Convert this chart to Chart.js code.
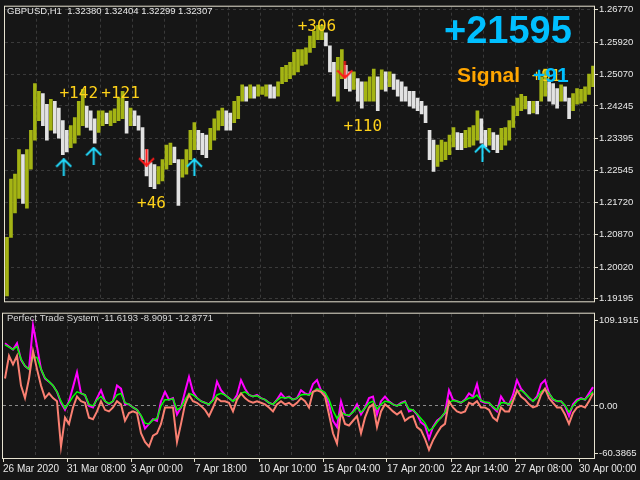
<!DOCTYPE html>
<html lang="en">
<head>
<meta charset="UTF-8">
<title>GBPUSD H1 - Perfect Trade System</title>
<script src="https://cdn.jsdelivr.net/npm/chart.js"></script>
<style>
    body {
        margin: 0;
        background-color: #161616;
        width: 640px;
        height: 480px;
        overflow: hidden;
        position: relative;
    }
    #priceChart { position: absolute; left: 0; top: 0; }
    #indChart { position: absolute; left: 0; top: 307px; }
</style>
</head>
<body>
<canvas id="priceChart" width="640" height="308"></canvas>
<canvas id="indChart" width="640" height="173"></canvas>

<script>
// one sample = about 4 px of the original chart (148 samples)
const priceHigh = [
    1.2080, 1.2233, 1.2246, 1.2310, 1.2297, 1.2310, 1.2361, 1.2483, 1.2463, 1.2457,
    1.2429, 1.2442, 1.2437, 1.2419, 1.2386, 1.2361, 1.2373, 1.2394, 1.2437, 1.2468,
    1.2424, 1.2412, 1.2391, 1.2412, 1.2412, 1.2406, 1.2412, 1.2417, 1.2445, 1.2463,
    1.2437, 1.2419, 1.2412, 1.2399, 1.2368, 1.2310, 1.2276, 1.2271, 1.2266, 1.2284,
    1.2322, 1.2327, 1.2317, 1.2284, 1.2284, 1.2310, 1.2361, 1.2381, 1.2361, 1.2353,
    1.2348, 1.2366, 1.2391, 1.2412, 1.2419, 1.2412, 1.2406, 1.2437, 1.2450, 1.2480,
    1.2475, 1.2480, 1.2475, 1.2480, 1.2475, 1.2480, 1.2480, 1.2475, 1.2488, 1.2526,
    1.2531, 1.2539, 1.2565, 1.2572, 1.2572, 1.2577, 1.2608, 1.2621, 1.2636, 1.2636,
    1.2616, 1.2582, 1.2539, 1.2552, 1.2572, 1.2531, 1.2514, 1.2514, 1.2496, 1.2488,
    1.2488, 1.2501, 1.2521, 1.2501, 1.2519, 1.2514, 1.2514, 1.2508, 1.2493, 1.2488,
    1.2475, 1.2463, 1.2463, 1.2445, 1.2437, 1.2424, 1.2361, 1.2335, 1.2322, 1.2335,
    1.2330, 1.2348, 1.2368, 1.2355, 1.2353, 1.2361, 1.2368, 1.2373, 1.2412, 1.2391,
    1.2361, 1.2366, 1.2355, 1.2348, 1.2366, 1.2368, 1.2386, 1.2424, 1.2445, 1.2455,
    1.2450, 1.2437, 1.2437, 1.2437, 1.2501, 1.2521, 1.2488, 1.2483, 1.2470, 1.2480,
    1.2475, 1.2445, 1.2457, 1.2470, 1.2468, 1.2475, 1.2508, 1.2529
];
const priceLow = [
    1.1927, 1.2080, 1.2144, 1.2182, 1.2169, 1.2157, 1.2259, 1.2335, 1.2386, 1.2373,
    1.2335, 1.2361, 1.2353, 1.2340, 1.2297, 1.2304, 1.2315, 1.2327, 1.2348, 1.2373,
    1.2368, 1.2361, 1.2327, 1.2355, 1.2373, 1.2378, 1.2373, 1.2381, 1.2386, 1.2391,
    1.2353, 1.2373, 1.2373, 1.2361, 1.2284, 1.2241, 1.2213, 1.2208, 1.2220, 1.2228,
    1.2259, 1.2271, 1.2276, 1.2164, 1.2238, 1.2246, 1.2284, 1.2310, 1.2310, 1.2297,
    1.2289, 1.2310, 1.2335, 1.2361, 1.2373, 1.2361, 1.2361, 1.2381, 1.2391, 1.2437,
    1.2437, 1.2445, 1.2445, 1.2450, 1.2455, 1.2450, 1.2445, 1.2445, 1.2450, 1.2483,
    1.2488, 1.2496, 1.2506, 1.2514, 1.2531, 1.2534, 1.2565, 1.2577, 1.2598, 1.2598,
    1.2582, 1.2514, 1.2450, 1.2437, 1.2496, 1.2470, 1.2463, 1.2468, 1.2437, 1.2419,
    1.2437, 1.2437, 1.2437, 1.2412, 1.2468, 1.2463, 1.2475, 1.2468, 1.2450, 1.2437,
    1.2437, 1.2424, 1.2419, 1.2412, 1.2404, 1.2381, 1.2284, 1.2253, 1.2266, 1.2279,
    1.2284, 1.2297, 1.2317, 1.2310, 1.2310, 1.2315, 1.2317, 1.2322, 1.2335, 1.2327,
    1.2317, 1.2322, 1.2310, 1.2302, 1.2310, 1.2322, 1.2335, 1.2368, 1.2399, 1.2412,
    1.2417, 1.2404, 1.2406, 1.2404, 1.2437, 1.2450, 1.2437, 1.2429, 1.2419, 1.2437,
    1.2437, 1.2391, 1.2412, 1.2429, 1.2432, 1.2437, 1.2455, 1.2475
];
const priceTicks = [1.26770, 1.25920, 1.25070, 1.24245, 1.23395, 1.22545, 1.21720, 1.20870, 1.20020, 1.19195];

// Perfect Trade System buffers
const magentaLine = [
    80, 76, 72, 80, 59, 51, 47, 103, 76, 47,
    35, 31, 26, 18, 4, -5, 6, 24, 43, 16,
    14, 0, -2, 10, 20, 6, 2, 6, 26, 22,
    2, 2, -2, -5, -13, -29, -23, -17, -19, 6,
    18, 8, 10, -11, -2, 18, 37, 18, 10, 6,
    4, 2, 8, 31, 20, 14, 10, 6, 14, 33,
    22, 14, 12, 14, 10, 8, 4, 2, 8, 16,
    10, 12, 8, 10, 20, 16, 14, 28, 33, 20,
    16, 2, -19, -27, 6, -11, -13, -7, 2, -11,
    -2, 10, 12, -11, 6, 12, 6, 2, 0, 4,
    6, -7, -5, -11, -21, -25, -42, -27, -19, -15,
    -9, 20, 8, 6, 4, 8, 16, 12, 28, 6,
    4, 4, -2, -7, 12, 4, 2, 14, 33, 22,
    16, 10, 6, 12, 28, 33, 16, 8, 6, 6,
    0, -13, 2, 8, 10, 8, 16, 24
];
const greenLine = [
    78, 75, 72, 76, 60, 51, 47, 62, 62, 47,
    36, 31, 26, 18, 6, -3, 4, 12, 18, 16,
    14, 2, 0, 8, 12, 6, 3, 6, 14, 16,
    4, 2, -2, -5, -12, -22, -23, -18, -16, 0,
    8, 8, 9, -5, -2, 8, 16, 14, 10, 6,
    4, 2, 7, 14, 16, 14, 10, 6, 10, 16,
    18, 14, 12, 13, 10, 8, 4, 2, 7, 11,
    10, 11, 8, 10, 14, 15, 14, 18, 22, 20,
    17, 8, -6, -16, -8, -11, -12, -8, -2, -8,
    -3, 4, 6, -4, 2, 6, 5, 2, 0, 3,
    5, -4, -5, -10, -16, -22, -32, -28, -21, -15,
    -8, 4, 7, 6, 4, 7, 10, 10, 14, 7,
    5, 4, -1, -5, 4, 4, 2, 8, 18, 20,
    16, 11, 6, 10, 18, 22, 16, 9, 6, 6,
    1, -8, 0, 6, 9, 8, 13, 18
];
const salmonLine = [
    35, 64, 53, 64, 26, 10, 35, 70, 47, 26,
    10, 16, 10, 6, -52, -15, -23, -2, 12, 6,
    4, -15, -17, -7, 6, -5, -7, -2, 6, 2,
    -19, -9, -7, -9, -35, -46, -52, -38, -35, -23,
    -2, -2, -2, -46, -23, 2, 14, 6, 4, 0,
    -5, -13, -2, 10, 6, 6, 4, -7, 8, 16,
    10, 6, 4, 6, 4, 2, -2, -7, 2, 6,
    2, 4, 0, 4, 10, 6, -2, 18, 20, 18,
    12, -11, -35, -48, -7, -23, -25, -19, -13, -35,
    -15, -2, 2, -27, -7, 2, -2, -7, -11, -7,
    -19, -15, -13, -27, -31, -42, -56, -44, -35, -27,
    -23, 6, -2, -7, -9, -7, 4, 2, 6, -2,
    -2, -5, -15, -19, -2, -7, -7, 6, 20, 12,
    8, 2, -2, 0, 14, 22, 10, 4, -2, -2,
    -11, -23, -9, -2, 0, -2, 6, 16
];
const indTicks = [109.1915, 0, -60.3865];

const dateLabels = ['26 Mar 2020', '31 Mar 08:00', '3 Apr 00:00', '7 Apr 18:00', '10 Apr 10:00',
    '15 Apr 04:00', '17 Apr 20:00', '22 Apr 14:00', '27 Apr 08:00', '30 Apr 00:00'];
const datePos = [0, 16, 32, 48, 64, 80, 96, 112, 128, 144];
const gridPos = [8, 16, 24, 32, 40, 48, 56, 64, 72, 80, 88, 96, 104, 112, 120, 128, 136, 144];

// signal arrows and closed trade results
const buyX = [14.75, 22.25, 47.5, 119.75];
const buyY = [1.2264, 1.2294, 1.2264, 1.2302];
const sellX = [35.5, 85.25];
const sellY = [1.2289, 1.2519];
const tradeText = ['+142', '+121', '+46', '+306', '+110', '+91'];
const tradeX = [18.5, 29, 36.75, 78.25, 89.75, 135.75];
const tradeY = [1.2457, 1.2457, 1.2169, 1.2631, 1.2371, 1.2501];

const xMax = 147.75;
const frameColor = '#e6e2d0';
const gridColor = '#3a3a3a';
const textColor = '#e8e8e8';

function arrowImg(color, up) {
    const c = document.createElement('canvas');
    c.width = 17;
    c.height = 18;
    const g = c.getContext('2d');
    g.strokeStyle = color;
    g.lineWidth = 2;
    g.beginPath();
    if (up) {
        g.moveTo(8.5, 1); g.lineTo(8.5, 18);
        g.moveTo(1, 8.5); g.lineTo(8.5, 1); g.lineTo(16, 8.5);
    } else {
        g.moveTo(8.5, 0); g.lineTo(8.5, 17);
        g.moveTo(1, 9.5); g.lineTo(8.5, 17); g.lineTo(16, 9.5);
    }
    g.stroke();
    return c;
}

const barColors = priceHigh.map(function(h, i) {
    if (i === 0) return '#a4b414';
    return (h + priceLow[i]) >= (priceHigh[i - 1] + priceLow[i - 1]) ? '#a4b414' : '#e2e2e2';
});

const frame = {
    id: 'frame',
    afterDraw(chart) {
        const a = chart.chartArea;
        const ctx = chart.ctx;
        ctx.save();
        ctx.strokeStyle = frameColor;
        ctx.lineWidth = 1;
        ctx.strokeRect(a.left - 0.5, a.top - 0.5, a.right - a.left + 1, a.bottom - a.top + 1);
        ctx.restore();
    }
};

const priceText = {
    id: 'priceText',
    afterDatasetsDraw(chart) {
        const ctx = chart.ctx;
        const x = chart.scales.x;
        const y = chart.scales.y;
        ctx.save();
        ctx.textBaseline = 'middle';
        ctx.textAlign = 'center';
        ctx.font = '16px "DejaVu Sans Mono"';
        ctx.fillStyle = '#ffd21a';
        tradeText.forEach(function(t, i) {
            ctx.fillText(t, x.getPixelForValue(tradeX[i]), y.getPixelForValue(tradeY[i]));
        });

        ctx.textAlign = 'left';
        ctx.font = 'bold 38px "Liberation Sans"';
        ctx.fillStyle = '#00bfff';
        ctx.fillText('+21595', 444, 33);
        ctx.font = 'bold 21px "Liberation Sans"';
        ctx.fillStyle = '#ffa500';
        ctx.fillText('Signal', 457, 76);
        ctx.fillStyle = '#00bfff';
        ctx.fillText('+91', 533, 76);

        ctx.font = '9.5px "Liberation Sans"';
        ctx.fillStyle = textColor;
        ctx.fillText('GBPUSD,H1  1.32380 1.32404 1.32299 1.32307', 7, 11);
        ctx.restore();
    }
};

const indText = {
    id: 'indText',
    afterDatasetsDraw(chart) {
        const ctx = chart.ctx;
        ctx.save();
        ctx.textBaseline = 'middle';
        ctx.font = '9.5px "Liberation Sans"';
        ctx.fillStyle = '#d8d8d8';
        ctx.fillText('Perfect Trade System -11.6193 -8.9091 -12.8771', 7, 11);
        ctx.restore();
    }
};

new Chart(document.getElementById('priceChart'), {
    type: 'bar',
    data: {
        datasets: [
            {
                type: 'line',
                data: buyX.map((v, i) => ({ x: v, y: buyY[i] })),
                showLine: false,
                pointStyle: arrowImg('#22dcff', true),
                order: 0
            },
            {
                type: 'line',
                data: sellX.map((v, i) => ({ x: v, y: sellY[i] })),
                showLine: false,
                pointStyle: arrowImg('#ff1a1a', false),
                order: 0
            },
            {
                type: 'bar',
                data: priceHigh.map((h, i) => ({ x: i + 0.5, y: [priceLow[i], h] })),
                backgroundColor: barColors,
                barThickness: 3,
                order: 1
            }
        ]
    },
    options: {
        responsive: false,
        animation: false,
        layout: { padding: { left: 3, top: 3, right: 0, bottom: 2 } },
        plugins: { legend: { display: false }, tooltip: { enabled: false } },
        scales: {
            x: {
                type: 'linear',
                min: 0,
                max: xMax,
                offset: false,
                ticks: { display: false },
                grid: { color: gridColor, drawTicks: false, offset: false },
                border: { display: false, dash: [3, 3] },
                afterBuildTicks: s => { s.ticks = gridPos.map(v => ({ value: v })); },
                afterFit: s => { s.height = 0; }
            },
            y: {
                position: 'right',
                min: 1.19126,
                max: 1.26847,
                afterBuildTicks: s => { s.ticks = priceTicks.map(v => ({ value: v })); },
                ticks: {
                    callback: v => v.toFixed(5),
                    color: textColor,
                    font: { family: 'Liberation Sans', size: 9.5 },
                    padding: 1
                },
                grid: { color: gridColor, tickColor: frameColor, tickLength: 4 },
                border: { display: false, dash: [3, 3] },
                afterFit: s => { s.width = 46; }
            }
        }
    },
    plugins: [priceText, frame]
});

new Chart(document.getElementById('indChart'), {
    type: 'line',
    data: {
        datasets: [
            {
                data: salmonLine.map((v, i) => ({ x: i + 0.5, y: v })),
                borderColor: '#fa8072',
                borderWidth: 2,
                pointRadius: 0,
                xAxisID: 'x',
                yAxisID: 'y'
            },
            {
                data: greenLine.map((v, i) => ({ x: i + 0.5, y: v })),
                borderColor: '#00ff00',
                borderWidth: 1.5,
                pointRadius: 0,
                xAxisID: 'x',
                yAxisID: 'y'
            },
            {
                data: magentaLine.map((v, i) => ({ x: i + 0.5, y: v })),
                borderColor: '#ff00ff',
                borderWidth: 2,
                pointRadius: 0,
                xAxisID: 'x',
                yAxisID: 'y'
            }
        ]
    },
    options: {
        responsive: false,
        animation: false,
        layout: { padding: { left: 3, top: 2, right: 0, bottom: 0 } },
        plugins: { legend: { display: false }, tooltip: { enabled: false } },
        scales: {
            xg: {
                type: 'linear',
                position: 'top',
                min: 0,
                max: xMax,
                ticks: { display: false },
                grid: { color: gridColor, drawTicks: false },
                border: { display: false, dash: [3, 3] },
                afterBuildTicks: s => { s.ticks = gridPos.map(v => ({ value: v })); },
                afterFit: s => { s.height = 0; }
            },
            x: {
                type: 'linear',
                position: 'bottom',
                min: 0,
                max: xMax,
                afterBuildTicks: s => { s.ticks = datePos.map(v => ({ value: v })); },
                ticks: {
                    callback: (v, i) => dateLabels[i],
                    align: 'start',
                    autoSkip: false,
                    maxRotation: 0,
                    color: textColor,
                    font: { family: 'Liberation Sans', size: 10 },
                    padding: 1
                },
                grid: { drawOnChartArea: false, tickColor: frameColor, tickLength: 4 },
                border: { display: false },
                afterFit: s => { s.height = 22; }
            },
            y: {
                position: 'right',
                min: -66.58,
                max: 117.85,
                afterBuildTicks: s => { s.ticks = indTicks.map(v => ({ value: v })); },
                ticks: {
                    callback: v => (v === 0 ? '0.00' : v.toFixed(4)),
                    color: textColor,
                    font: { family: 'Liberation Sans', size: 9.5 },
                    padding: 1
                },
                grid: {
                    color: c => (c.tick && c.tick.value === 0 ? '#8a8a8a' : 'rgba(0,0,0,0)'),
                    tickColor: frameColor,
                    tickLength: 4
                },
                border: { display: false, dash: [3, 3] },
                afterFit: s => { s.width = 46; }
            }
        }
    },
    plugins: [indText, frame]
});
</script>
</body>
</html>
